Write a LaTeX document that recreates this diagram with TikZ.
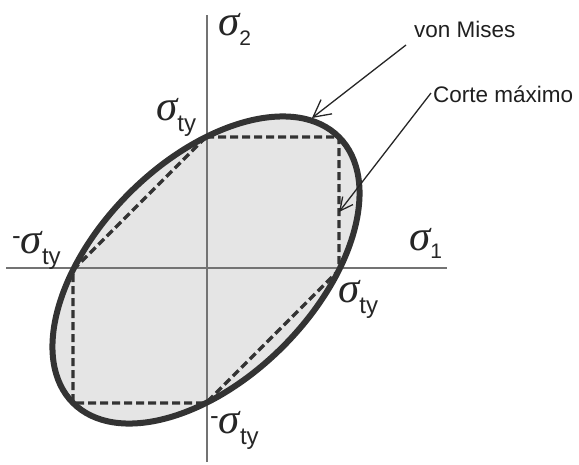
\documentclass[tikz,border=0pt]{standalone}
\usepackage{fontspec}
\setmainfont{Liberation Sans}
\newfontfamily\sigfont{Liberation Serif}
\usetikzlibrary{arrows.meta}
\newcommand{\sgm}{{\fontsize{43}{43}\selectfont\sigfont\itshape σ}}
\newcommand{\lowsub}[2][11pt]{\raisebox{-#1}{\fontsize{24}{24}\selectfont #2}}
\newcommand{\lowdig}[2][9pt]{\raisebox{-#1}{\fontsize{21}{21}\selectfont #2}}
\newcommand{\negs}{\raisebox{9pt}{\fontsize{26}{26}\selectfont -}}
\begin{document}
\begin{tikzpicture}[x=1pt,y=-1pt,
  lbl/.style={inner sep=0pt, anchor=base west, text=black!85},
  note/.style={inner sep=0pt, anchor=base west, text=black!88, font=\fontsize{22.5}{22.5}\selectfont},
  axis/.style={draw=black!55, line width=1.1pt},
  vm/.style={draw=black!80, line width=6pt},
  tresca/.style={draw=black!80, line width=3.4pt, dash pattern=on 8pt off 4pt},
  pointer/.style={draw=black!85, line width=1.3pt}]
\useasboundingbox (0,0) rectangle (579,464);
\coordinate (c) at (206,270);
% fill
\fill[fill=black!10] (c) ellipse [x radius=188pt, y radius=108.6pt, rotate=45];
% axes
\coordinate (yt) at (207,15);
\coordinate (yb) at (207,462);
\coordinate (xl) at (6,268);
\coordinate (xr) at (447,268);
\draw[axis] (yb) -- (yt);
\draw[axis] (xl) -- (xr);
% Tresca hexagon
\coordinate (t1) at (206,137);
\coordinate (t2) at (339,137);
\coordinate (t3) at (339,270);
\coordinate (t4) at (206,403);
\coordinate (t5) at (73,403);
\coordinate (t6) at (73,270);
\draw[tresca] (t1) -- (t2) -- (t3) -- (t4) -- (t5) -- (t6) -- cycle;
% von Mises ellipse
\draw[vm] (c) ellipse [x radius=188pt, y radius=108.6pt, rotate=45];
% labels
\node[lbl] (s2) at (218,35) {\sgm\lowdig[10pt]{2}};
\node[lbl] (s1) at (409,250) {\sgm\lowdig[8pt]{1}};
\node[lbl] (sty) at (156,120) {\sgm\lowsub{ty}};
\node[lbl] (stx) at (338,302) {\sgm\lowsub{ty}};
\node[lbl] (msx) at (12,253) {\negs\sgm\lowsub{ty}};
\node[lbl] (msy) at (210,433) {\negs\sgm\lowsub{ty}};
% notes
\node[note] (vmt) at (414,37) {von Mises};
\node[note] (cmt) at (433,102) {Corte máximo};
\coordinate (vmA) at (406,45);
\coordinate (vmB) at (312,118);
\coordinate (cmA) at (431,93);
\coordinate (cmB) at (339,212);
\draw[pointer, -{Straight Barb[length=17pt,width=18pt]}] (vmA) -- (vmB);
\draw[pointer, -{Straight Barb[length=13pt,width=13pt]}] (cmA) -- (cmB);
\end{tikzpicture}
\end{document}
